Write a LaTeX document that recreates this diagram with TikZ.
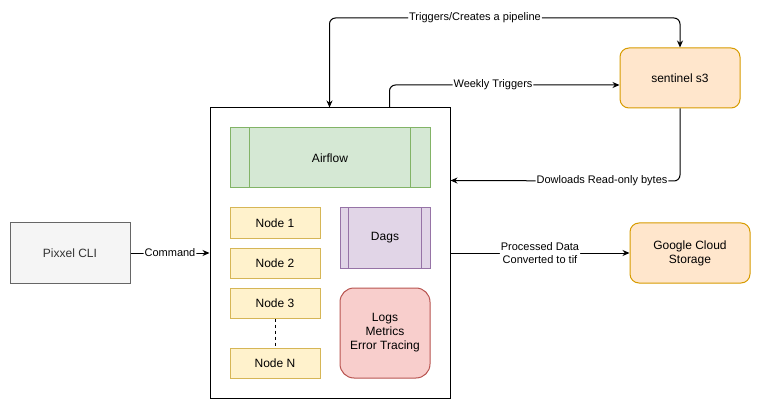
\documentclass[tikz,border=0pt]{standalone}
\usepackage{fontspec}
\setmainfont{Liberation Sans}
\usetikzlibrary{arrows.meta,positioning,calc}

\definecolor{grayfill}{HTML}{F5F5F5}
\definecolor{graydraw}{HTML}{666666}
\definecolor{graytext}{HTML}{333333}
\definecolor{greenfill}{HTML}{D5E8D4}
\definecolor{greendraw}{HTML}{82B366}
\definecolor{yellowfill}{HTML}{FFF2CC}
\definecolor{yellowdraw}{HTML}{D6B656}
\definecolor{purplefill}{HTML}{E1D5E7}
\definecolor{purpledraw}{HTML}{9673A6}
\definecolor{redfill}{HTML}{F8CECC}
\definecolor{reddraw}{HTML}{B85450}
\definecolor{orangefill}{HTML}{FFE6CC}
\definecolor{orangedraw}{HTML}{D79B00}

\begin{document}
\begin{tikzpicture}
[x=1pt, y=-1pt, line width=1pt, >={Stealth[length=7pt,width=6pt]},
box/.style={draw, rectangle, inner sep=0pt, align=center, font=\fontsize{12}{14}\selectfont},
nodebox/.style={box, fill=yellowfill, draw=yellowdraw, minimum width=90pt, minimum height=30pt},
orangebox/.style={box, fill=orangefill, draw=orangedraw, rounded corners=9pt, minimum width=120pt, minimum height=60pt},
lbl/.style={fill=white, inner sep=1pt, align=center, font=\fontsize{11}{13}\selectfont},
link/.style={->, rounded corners=6pt}]

\useasboundingbox (0,0) rectangle (761,409);

\node[box, fill=grayfill, draw=graydraw, text=graytext, minimum width=120pt, minimum height=60pt] (cli) at (70,253) {Pixxel CLI};
\node[box, minimum width=240pt, minimum height=290pt] (main) at (330,253) {};

\node[box, fill=greenfill, draw=greendraw, minimum width=200pt, minimum height=60pt] (airflow) at (330,158) {Airflow};
\draw[greendraw] ($(airflow.north west)+(20,0)$) -- ($(airflow.south west)+(20,0)$);
\draw[greendraw] ($(airflow.north east)+(-20,0)$) -- ($(airflow.south east)+(-20,0)$);

\node[nodebox] (node1) at (275,223) {Node 1};
\node[nodebox] (node2) at (275,263) {Node 2};
\node[nodebox] (node3) at (275,303) {Node 3};
\node[nodebox] (nodeN) at (275,363) {Node N};
\draw[dashed, line width=0.8pt] (node3.south) -- (nodeN.north);

\node[box, fill=purplefill, draw=purpledraw, minimum width=90pt, minimum height=60pt] (dags) at (385,238) {Dags};
\draw[purpledraw] ($(dags.north west)+(9,0)$) -- ($(dags.south west)+(9,0)$);
\draw[purpledraw] ($(dags.north east)+(-9,0)$) -- ($(dags.south east)+(-9,0)$);

\node[box, fill=redfill, draw=reddraw, rounded corners=14pt, minimum width=90pt, minimum height=90pt] (logs) at (385,333) {Logs\\Metrics\\Error Tracing};

\node[orangebox] (sentinel) at (680,78) {sentinel s3};
\node[orangebox] (gcs) at (690,253) {Google Cloud\\Storage};

\coordinate (maintopA) at ($(main.north west)+(120,0)$);
\coordinate (maintopB) at ($(main.north west)+(180,0)$);
\coordinate (mainright) at ($(main.north east)+(0,73)$);
\coordinate (sentinelin) at ($(sentinel.west)+(0,7)$);

\draw[link] (cli.east) -- node[lbl] {Command} (main.west);
\draw[link, <->] (maintopA) |- (475,18) node[lbl] {Triggers/Creates a pipeline} -| (sentinel.north);
\draw[link] (maintopB) |- (493,85) node[lbl] {Weekly Triggers} -- (sentinelin);
\draw[link] (sentinel.south) |- (602,181) node[lbl] {Dowloads Read-only bytes} -- (mainright);
\draw[link] (main.east) -- node[lbl] {Processed Data\\Converted to tif} (gcs.west);
\end{tikzpicture}
\end{document}
